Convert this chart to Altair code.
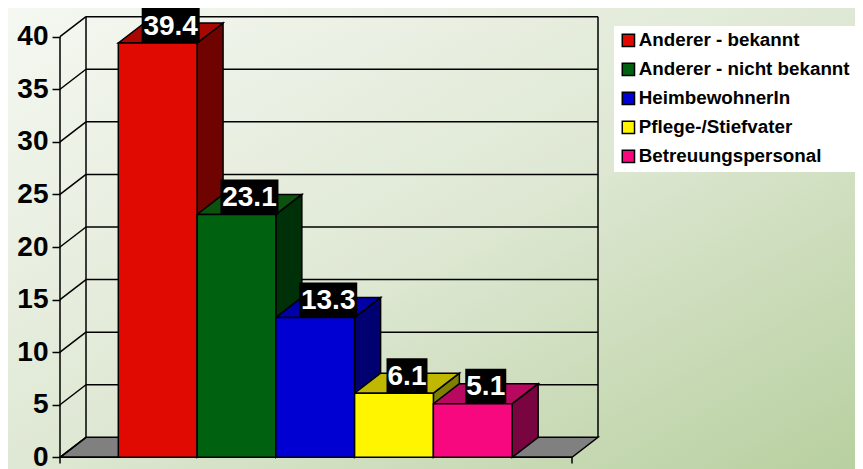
import altair as alt
import pandas as pd

categories = ["Anderer - bekannt", "Anderer - nicht bekannt", "HeimbewohnerIn", "Pflege-/Stiefvater", "Betreuungspersonal"]
values = [39.4, 23.1, 13.3, 6.1, 5.1]
front_colors = ["#e00a02", "#006210", "#0000d2", "#fff500", "#f8087f"]
top_colors = ["#a80802", "#0a520e", "#0000a8", "#c0b800", "#b80860"]
side_colors = ["#6e0300", "#003008", "#000070", "#808000", "#780440"]
y_ticks = [0, 5, 10, 15, 20, 25, 30, 35, 40]

W, H = 847, 461
UX, UY = 78.77, 10.515
X0, Y0 = 52.0, 449.3
DX, DY = 26 / UX, 20 / UY
XMAX = 6.5
START = 58.3 / UX

x_scale = alt.Scale(domain=[-X0 / UX, (W - X0) / UX], range=[0, W], nice=False, zero=False)
y_scale = alt.Scale(domain=[(Y0 - H) / UY, Y0 / UY], range=[H, 0], nice=False, zero=False)
y_axis = alt.Axis(
    values=y_ticks, title=None, grid=False, domain=False, offset=-X0, tickSize=8, tickColor="#000000",
    tickWidth=1.5, labelFont="Liberation Sans", labelFontWeight="bold", labelFontSize=28, labelColor="#000000",
    labelPadding=4, labelOverlap=False, labelFlush=False, zindex=1)
X = lambda f: alt.X(f, type="quantitative", scale=x_scale, axis=None)
Y = lambda f: alt.Y(f, type="quantitative", scale=y_scale, axis=y_axis)
LINE = {"stroke": "#000000", "strokeWidth": 1.5}

fronts, sides, tops, boxes = [], [], [], []
for i, (c, v) in enumerate(zip(categories, values)):
    l, r = START + i, START + i + 1
    fronts.append({"cat": c, "l": l, "r": r, "v": v, "b": 0})
    sides += [
        {"cat": c, "x": r, "lo": 0, "hi": v, "fill": side_colors[i]},
        {"cat": c, "x": r + DX, "lo": DY, "hi": v + DY, "fill": side_colors[i]},
    ]
    tops += [
        {"cat": c, "y": v, "a": l, "b": r, "fill": top_colors[i]},
        {"cat": c, "y": v + DY, "a": l + DX, "b": r + DX, "fill": top_colors[i]},
    ]
    text = f"{v:.1f}"
    half = (29 if len(text) == 4 else 20.5) / UX
    mid = l + 0.5 + DX / 2
    boxes.append({"text": text, "a": mid - half, "b": mid + half, "lo": v, "hi": v + 35 / UY, "mid": mid, "ym": v + 16.5 / UY})

fronts, sides, tops, boxes = map(pd.DataFrame, (fronts, sides, tops, boxes))
ticks = pd.DataFrame({"v": y_ticks})
ticks["vb"] = ticks["v"] + DY
ticks["x0"], ticks["x1"], ticks["x2"] = 0.0, DX, XMAX + DX

background = alt.Chart(pd.DataFrame({"a": [0]})).mark_rect(
    color=alt.LinearGradient(
        gradient="linear", x1=0, y1=0, x2=1, y2=1,
        stops=[alt.GradientStop(offset=0, color="#f5f8f2"),
               alt.GradientStop(offset=0.5, color="#dfe8d4"),
               alt.GradientStop(offset=1, color="#b8d0a0")])
).encode(x=alt.value(0), x2=alt.value(W), y=alt.value(0), y2=alt.value(H))

floor = alt.Chart(pd.DataFrame({"y": [0, DY], "a": [0, DX], "b": [XMAX, XMAX + DX]})).mark_area(
    orient="horizontal", fill="#808080", **LINE
).encode(y=Y("y"), x=X("a"), x2="b")

back_grid = alt.Chart(ticks[ticks.v > 0]).mark_rule(**LINE).encode(x=X("x1"), x2="x2", y=Y("vb"))
wall_grid = alt.Chart(ticks).mark_rule(**LINE).encode(x=X("x0"), x2="x1", y=Y("v"), y2="vb")
verticals = alt.Chart(pd.DataFrame({"x": [0, DX, XMAX + DX], "a": [0, DY, DY], "b": [40, 40 + DY, 40 + DY]})).mark_rule(**LINE).encode(
    x=X("x"), y=Y("a"), y2="b")
base = alt.Chart(pd.DataFrame({"a": [0], "b": [XMAX], "y": [0]})).mark_rule(**LINE).encode(x=X("a"), x2="b", y=Y("y"))
base_ticks = alt.Chart(pd.DataFrame({"x": [0, XMAX], "a": [0, 0], "b": [-0.6, -0.6]})).mark_rule(**LINE).encode(
    x=X("x"), y=Y("a"), y2="b")

side_faces = alt.Chart(sides).mark_area(orient="vertical", **LINE).encode(
    x=X("x"), y=Y("lo"), y2="hi", detail="cat:N", fill=alt.Fill("fill:N", scale=None))
top_faces = alt.Chart(tops).mark_area(orient="horizontal", **LINE).encode(
    y=Y("y"), x=X("a"), x2="b", detail="cat:N", fill=alt.Fill("fill:N", scale=None))
front_faces = alt.Chart(fronts).mark_bar(**LINE).encode(
    x=X("l"), x2="r", y=Y("b"), y2="v",
    color=alt.Color("cat:N", sort=categories, scale=alt.Scale(domain=categories, range=front_colors),
                    legend=alt.Legend(orient="none", legendX=606, legendY=18, title=None, fillColor="#ffffff",
                                      padding=5, symbolType="square", symbolSize=150, symbolStrokeWidth=1.5,
                                      symbolStrokeColor="#000000", symbolOpacity=1, labelFont="Liberation Sans",
                                      labelFontWeight="bold", labelFontSize=18.8, labelColor="#000000", labelLimit=300,
                                      labelOffset=1, rowPadding=9, offset=0)))
label_boxes = alt.Chart(boxes).mark_rect(color="#000000").encode(x=X("a"), x2="b", y=Y("lo"), y2="hi")
labels = alt.Chart(boxes).mark_text(font="Liberation Sans", fontWeight="bold", fontSize=28, color="#ffffff", baseline="middle").encode(
    x=X("mid"), y=Y("ym"), text="text:N")

chart = alt.layer(background, floor, back_grid, wall_grid, verticals, base, base_ticks,
                  side_faces, top_faces, front_faces, label_boxes, labels).resolve_scale(fill="independent").properties(
    width=W, height=H, padding=0, autosize=alt.AutoSizeParams(type="none")
).configure_view(stroke=None)

chart.save("out.html", embed_options={"renderer": "svg", "actions": False})
